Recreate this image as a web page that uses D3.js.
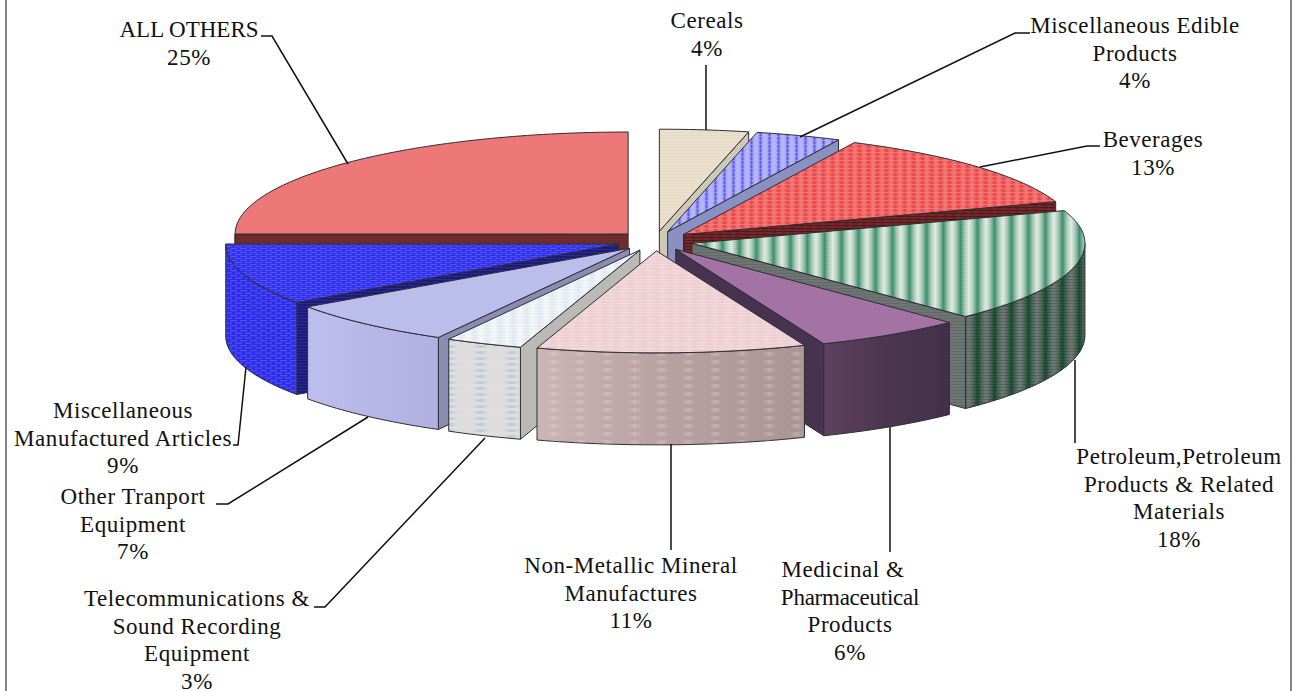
<!doctype html>
<html>

<head>
  <title>Export Shares</title>
  <script src="https://d3js.org/d3.v7.min.js"></script>
  <style>
    html, body { margin: 0; padding: 0; background: #fff; overflow: hidden; }
    text { font-family: "Liberation Serif", serif; font-size: 23px; letter-spacing: 0.55px; fill: #111; }
  </style>
</head>

<body>
  <svg width="1296" height="691"></svg>

  <script>
    // slices, clockwise from twelve o'clock
    var categories = [
      ["Cereals"],
      ["Miscellaneous Edible", "Products"],
      ["Beverages"],
      ["Petroleum,Petroleum", "Products & Related", "Materials"],
      ["Medicinal &", "Pharmaceutical", "Products"],
      ["Non-Metallic Mineral", "Manufactures"],
      ["Telecommunications &", "Sound Recording", "Equipment"],
      ["Other Tranport", "Equipment"],
      ["Miscellaneous", "Manufactured Articles"],
      ["ALL OTHERS"]
    ]
    var percentLabels = ["4%", "4%", "13%", "18%", "6%", "11%", "3%", "7%", "9%", "25%"]
    // shares, the printed labels are rounded
    var shares = [3.65, 3.51, 12.64, 17.94, 6.11, 11.06, 3.17, 7.19, 9.72, 25]

    // label centre x, first baseline y, then the leader polyline
    var labelX = [707, 1135, 1153, 1179, 850, 631, 197, 133, 123, 189]
    var labelY = [28, 33, 147, 464, 577, 573, 606, 504, 418, 37]
    var leaders = [
      [[706, 65], [706, 130]],
      [[1030, 33], [1015, 33], [800, 137]],
      [[1100, 146], [1087, 146], [980, 167]],
      [[1075, 360], [1075, 443]],
      [[890, 427], [890, 552]],
      [[671, 444], [671, 550]],
      [[314, 607], [325, 607], [485, 438]],
      [[216, 504], [228, 504], [368, 417]],
      [[233, 445], [238, 445], [246, 367]],
      [[261, 36], [272, 36], [348, 164]]
    ]
    // lines that run too wide in this font
    var lineSpacing = { "Pharmaceutical": -0.25, "ALL OTHERS": 0 }
    var lineShift = { "Medicinal &": -7 }

    var height = 691
    var cx = 655, cy = 241, rx = 393, ry = 102, depth = 92, explode = 38
    var lineGap = 27.6

    var svg = d3.select("svg")
    var defs = svg.append("defs")

    // vertical stripes as a gradient, fine horizontal lines on top
    function pattern(id, w, h, stops, lineColor, lineH) {
      var grad = defs.append("linearGradient").attr("id", id + "-g")
      stops.forEach(function(s, i) {
        grad.append("stop").attr("offset", i / (stops.length - 1)).attr("stop-color", s)
      })
      var p = defs.append("pattern").attr("id", id)
        .attr("patternUnits", "userSpaceOnUse").attr("width", w).attr("height", h)
      p.append("rect").attr("width", w).attr("height", h).attr("fill", "url(#" + id + "-g)")
      if (lineColor) {
        p.append("rect").attr("width", w).attr("height", lineH || 1).attr("fill", lineColor)
      }
    }

    function brick(id, w, h, bg, fg) {
      var p = defs.append("pattern").attr("id", id)
        .attr("patternUnits", "userSpaceOnUse").attr("width", w).attr("height", h)
      p.append("rect").attr("width", w).attr("height", h).attr("fill", bg)
      p.append("rect").attr("width", w * 0.7).attr("height", h / 4).attr("fill", fg)
      p.append("rect").attr("x", w / 2).attr("y", h / 2).attr("width", w * 0.7).attr("height", h / 4).attr("fill", fg)
      p.append("rect").attr("x", -w / 2).attr("y", h / 2).attr("width", w * 0.7).attr("height", h / 4).attr("fill", fg)
    }

    function sideGradient(id, stops) {
      var grad = defs.append("linearGradient").attr("id", id)
      stops.forEach(function(s, i) {
        grad.append("stop").attr("offset", i / (stops.length - 1)).attr("stop-color", s)
      })
    }

    pattern("cerealsTop", 8, 3, ["#ebe1ce", "#e8decb", "#ebe1ce"], "#e4dac6")
    pattern("edibleTop", 9, 4, ["#b8b8f9", "#aeaef8", "#5a5aee", "#aeaef8", "#b8b8f9"], "rgba(175,175,248,0.5)", 1)
    pattern("beverageTop", 9, 4, ["#f67a78", "#e9464a", "#f67a78"], "rgba(245,130,125,0.7)", 1)
    pattern("beverageWall", 9, 3, ["#6b2226", "#7a2a2c", "#6b2226"], "#4f1a1c")
    pattern("petroleumTop", 17, 2, ["#e9efeb", "#a8cbb9", "#3f9070", "#a8cbb9", "#e9efeb"], "rgba(60,120,90,0.08)")
    pattern("petroleumSide", 17, 3, ["#787c7a", "#4f6a5c", "#1c4a34", "#4f6a5c", "#787c7a"], "rgba(10,40,25,0.22)")
    pattern("petroleumWall", 6, 3, ["#6f7572", "#6f7572"], "#636966")
    pattern("nonMetalTop", 13, 3, ["#f0d3d7", "#ecccd1", "#f0d3d7"], "rgba(255,240,240,0.3)")
    pattern("telecomTop", 13, 3, ["#f4f6f7", "#dfe7f0", "#f4f6f7"], "rgba(255,255,255,0.3)")
    pattern("telecomSide", 31, 6, ["#dcdcdc", "#dcdcdc", "#b8cadb", "#dcdcdc", "#dcdcdc"], "#dedede", 3)
    brick("mfgTop", 10, 4, "#3232ea", "#5252fa")
    brick("mfgSide", 10, 5, "#2c2ce6", "#5050f8")
    pattern("mfgWall", 4, 3, ["#1c1c78", "#1c1c78"], "#2a2a90")

    // pale dashes across the front of the non-metallic slice
    sideGradient("nonMetalSpots-g", ["rgba(255,255,255,0)", "rgba(255,255,255,0)", "rgba(255,255,255,0.2)", "rgba(255,255,255,0)", "rgba(255,255,255,0)"])
    defs.append("pattern").attr("id", "nonMetalSpots")
      .attr("patternUnits", "userSpaceOnUse").attr("width", 27).attr("height", 8)
      .append("rect").attr("width", 27).attr("height", 4).attr("fill", "url(#nonMetalSpots-g)")

    sideGradient("medSide", ["#5f4160", "#4c3650", "#42304a"])
    sideGradient("nonMetalSide", ["#ccb4b5", "#b8a0a0", "#a99594"])
    sideGradient("otherSide", ["#bebfee", "#b6b7e6", "#b0b1e0"])

    var topFill = ["url(#cerealsTop)", "url(#edibleTop)", "url(#beverageTop)", "url(#petroleumTop)", "#a473a6",
      "url(#nonMetalTop)", "url(#telecomTop)", "#bbbdeb", "url(#mfgTop)", "#ee7777"]
    var rimFill = ["#ccc4b0", "#8b90c2", "#7a2a2c", "url(#petroleumSide)", "url(#medSide)",
      "url(#nonMetalSide)", "url(#telecomSide)", "url(#otherSide)", "url(#mfgSide)", "#6e2c2c"]
    var wallFill = ["#cfc8b4", "#8b90c2", "url(#beverageWall)", "url(#petroleumWall)", "#47324f",
      "#a99594", "#b9bab6", "#8a8cb2", "url(#mfgWall)", "#6e2c2c"]

    var pie = d3.pie().sort(null).value(function(d) { return d })
    var arcs = pie(shares)

    var xScale = d3.scaleLinear().domain([-1, 1]).range([-rx, rx])
    var yScale = d3.scaleLinear().domain([-1, 1]).range([-ry, ry])
    var line = d3.line()

    function rimPoint(a, apex, dy) {
      return [apex[0] + xScale(Math.sin(a)), apex[1] + yScale(-Math.cos(a)) + (dy || 0)]
    }

    function rimPoints(a0, a1, apex, dy) {
      var n = Math.max(2, Math.ceil((a1 - a0) / 0.02))
      return d3.range(n + 1).map(function(i) {
        return rimPoint(a0 + (a1 - a0) * i / n, apex, dy)
      })
    }

    var slices = arcs.map(function(a, i) {
      var mid = (a.startAngle + a.endAngle) / 2
      return {
        i: i,
        a0: a.startAngle,
        a1: a.endAngle,
        apex: [cx + xScale(Math.sin(mid)) * explode / rx, cy + yScale(-Math.cos(mid)) * explode / rx]
      }
    })

    // back to front
    var drawOrder = [9, 0, 1, 2, 3, 8, 7, 6, 4, 5]
    var pieG = svg.append("g").attr("stroke", "#2e2e33").attr("stroke-width", 1).attr("stroke-linejoin", "round")

    function wall(s, a) {
      var p = rimPoint(a, s.apex)
      var q = rimPoint(a, s.apex, depth)
      return line([s.apex, p, q, [s.apex[0], s.apex[1] + depth]]) + "Z"
    }

    drawOrder.forEach(function(i) {
      var s = slices[i]
      var g = pieG.append("g").attr("class", "slice")

      if (Math.sin(s.a0) < -1e-6) {
        g.append("path").attr("d", wall(s, s.a0)).attr("fill", wallFill[i])
      }
      if (Math.sin(s.a1) > 1e-6) {
        g.append("path").attr("d", wall(s, s.a1)).attr("fill", wallFill[i])
      }

      var r0 = Math.max(s.a0, Math.PI / 2)
      var r1 = Math.min(s.a1, Math.PI * 1.5)
      if (r1 > r0) {
        var upper = rimPoints(r0, r1, s.apex)
        var lower = rimPoints(r0, r1, s.apex, depth).reverse()
        var rimPath = line(upper.concat(lower)) + "Z"
        g.append("path").attr("d", rimPath).attr("fill", rimFill[i])
        if (i == 5) {
          g.append("path").attr("d", rimPath).attr("fill", "url(#nonMetalSpots)").attr("stroke", "none")
        }
      }

      g.append("path")
        .attr("d", line([s.apex].concat(rimPoints(s.a0, s.a1, s.apex))) + "Z")
        .attr("fill", topFill[i])
    })

    // leader lines
    svg.append("g").selectAll("path")
      .data(leaders)
      .enter()
      .append("path")
      .attr("d", function(d) { return line(d) })
      .attr("fill", "none")
      .attr("stroke", "#111")
      .attr("stroke-width", 1.5)

    // labels
    var labels = svg.append("g").selectAll("text")
      .data(categories)
      .enter()
      .append("text")
      .attr("text-anchor", "middle")
      .attr("y", function(d, i) { return labelY[i] })

    labels.each(function(d, i) {
      var lines = d.concat(percentLabels[i])
      d3.select(this).selectAll("tspan")
        .data(lines)
        .enter()
        .append("tspan")
        .attr("x", function(t) { return labelX[i] + (lineShift[t] || 0) })
        .attr("y", function(t, j) { return labelY[i] + j * lineGap })
        .style("letter-spacing", function(t) { return t in lineSpacing ? lineSpacing[t] + "px" : null })
        .text(function(t) { return t })
    })

    // frame, only the sides are left in this crop
    svg.append("g").selectAll("line")
      .data([6, 1291])
      .enter()
      .append("line")
      .attr("x1", function(d) { return d })
      .attr("x2", function(d) { return d })
      .attr("y1", 0)
      .attr("y2", height)
      .attr("stroke", "#333")
      .attr("stroke-width", 1.2)
  </script>

</body>

</html>
